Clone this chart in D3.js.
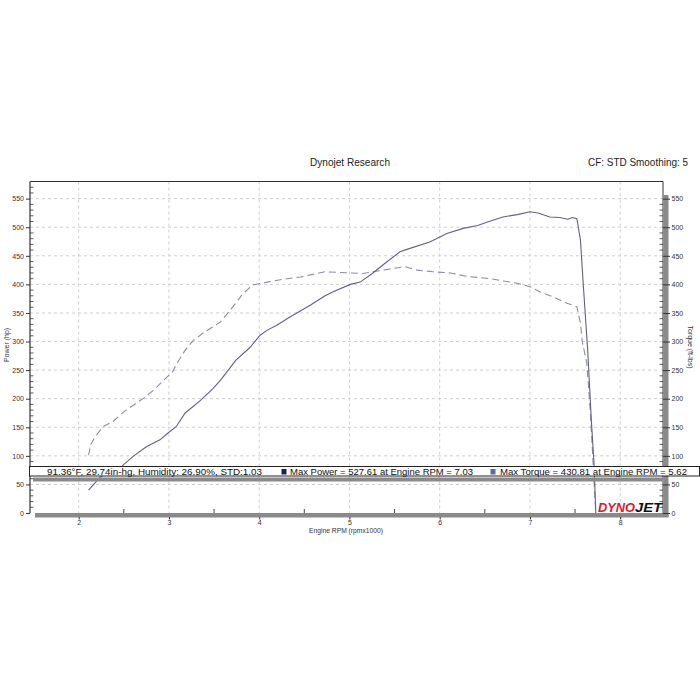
<!DOCTYPE html>
<html><head><meta charset="utf-8">
<script src="https://cdn.jsdelivr.net/npm/d3@7"></script>
<style>body{margin:0;background:#fff}svg{display:block}</style>
</head><body>
<script>
const powerRpm = [2.11,2.24,2.48,2.61,2.75,2.90,2.99,3.08,3.18,3.35,3.49,3.57,3.74,3.90,4.01,4.09,4.20,4.34,4.57,4.73,4.82,5.01,5.12,5.26,5.37,5.56,5.67,5.89,6.08,6.26,6.42,6.53,6.70,6.86,7.00,7.09,7.22,7.33,7.42,7.47,7.52,7.56,7.59,7.64,7.68,7.71,7.73];
const powerHp  = [40,63,82,100,116,128,140,151,175,197,218,232,267,290,311,320,329,343,364,380,387,400,404,420,434,457,463,474,489,498,503,509,518,522,527,525,518,517,514,517,515,477,402,285,163,87,0];
const torqueRpm = [2.11,2.13,2.18,2.27,2.38,2.50,2.61,2.72,2.83,2.94,3.04,3.09,3.18,3.27,3.38,3.57,3.71,3.82,3.93,4.09,4.27,4.46,4.64,4.73,5.01,5.15,5.26,5.49,5.62,5.75,5.93,6.12,6.30,6.56,6.70,6.86,7.00,7.11,7.26,7.41,7.52,7.56,7.58,7.63,7.67,7.70,7.72,7.73];
const torqueLbft = [101,119,133,151,160,177,189,201,215,232,247,262,285,302,315,334,361,384,399,404,409,413,419,422,420,419,422,428,430.8,425,422,420,414,410,406,402,396,387,378,367,361,332,300,262,175,87,28,0];
const xTicks = [2,3,4,5,6,7,8];
const yTicks = [0,50,100,150,200,250,300,350,400,450,500,550];
const title = "Dynojet Research";
const cfText = "CF: STD Smoothing: 5";
const weatherText = "91.36°F, 29.74in-hg, Humidity: 26.90%, STD:1.03";
const maxPowerText = "Max Power = 527.61 at Engine RPM = 7.03";
const maxTorqueText = "Max Torque = 430.81 at Engine RPM = 5.62";

const W = 700, H = 700;
const svg = d3.select("body").append("svg").attr("width", W).attr("height", H);
const L = 30, R = 663, T = 181.5, B = 513;
const x = d3.scaleLinear().domain([1.455, 8.48]).range([L - 0.5, R + 0.5]);
const y = d3.scaleLinear().domain([0, 580]).range([B, T]);
const font = "'Liberation Sans', Arial, sans-serif";

svg.append("text").attr("x", 350).attr("y", 166).attr("text-anchor", "middle")
  .attr("font-family", font).attr("font-size", 10.5).attr("fill", "#222")
  .attr("textLength", 80).attr("lengthAdjust", "spacingAndGlyphs").text(title);
svg.append("text").attr("x", 588).attr("y", 166)
  .attr("font-family", font).attr("font-size", 10.2).attr("fill", "#222")
  .attr("textLength", 100).attr("lengthAdjust", "spacingAndGlyphs").text(cfText);

// grid
const g = svg.append("g");
g.selectAll(".hg").data(yTicks.filter(d => d > 0)).join("line")
  .attr("x1", L).attr("x2", R).attr("y1", d => y(d)).attr("y2", d => y(d))
  .attr("stroke", "#cfcfcf").attr("stroke-width", 1).attr("stroke-dasharray", "3,3");
g.selectAll(".vg").data(xTicks).join("line")
  .attr("x1", d => x(d)).attr("x2", d => x(d)).attr("y1", T).attr("y2", B)
  .attr("stroke", "#cfcfcf").attr("stroke-width", 1).attr("stroke-dasharray", "3,3");

// frame
svg.append("line").attr("x1", L).attr("x2", R).attr("y1", T).attr("y2", T).attr("stroke", "#333").attr("stroke-width", 1.2);
svg.append("line").attr("x1", R).attr("x2", R).attr("y1", T).attr("y2", B + 3).attr("stroke", "#333").attr("stroke-width", 1);
svg.append("line").attr("x1", L).attr("x2", L).attr("y1", T).attr("y2", B).attr("stroke", "#333").attr("stroke-width", 1.2);
svg.append("rect").attr("x", R + 0.5).attr("y", 195).attr("width", 5).attr("height", B + 4 - 195).attr("fill", "#8a8a8a");
svg.append("rect").attr("x", 35).attr("y", B).attr("width", R + 5.5 - 35).attr("height", 4.5).attr("fill", "#8a8a8a");

const minorY = d3.range(0, 580, 10).filter(v => v % 50 !== 0);
svg.selectAll(".lmy").data(minorY).join("line")
  .attr("x1", L).attr("x2", L + 3.5).attr("y1", d => y(d)).attr("y2", d => y(d))
  .attr("stroke", "#333").attr("stroke-width", 0.8);
svg.selectAll(".rmy").data(minorY.filter(v => v > 0 && y(v) > 196)).join("line")
  .attr("x1", R - 3.5).attr("x2", R).attr("y1", d => y(d)).attr("y2", d => y(d))
  .attr("stroke", "#333").attr("stroke-width", 0.8);

const leftAxis = svg.append("g").attr("transform", `translate(${L},0)`)
  .call(d3.axisLeft(y).tickValues(yTicks).tickSize(4).tickPadding(2));
leftAxis.select(".domain").remove();
leftAxis.selectAll("line").attr("stroke", "#333");
leftAxis.selectAll("text").attr("font-family", font).attr("font-size", 7).attr("fill", "#333");

const rightAxis = svg.append("g").attr("transform", `translate(${R},0)`)
  .call(d3.axisRight(y).tickValues(yTicks).tickSize(7).tickPadding(1.5));
rightAxis.select(".domain").remove();
rightAxis.selectAll("line").attr("stroke", "#333");
rightAxis.selectAll("text").attr("font-family", font).attr("font-size", 7).attr("fill", "#333");

const bottomAxis = svg.append("g").attr("transform", `translate(0,${B + 4})`)
  .call(d3.axisBottom(x).tickValues(xTicks).tickSize(2.5).tickPadding(0.5).tickFormat(d3.format("d")));
bottomAxis.select(".domain").remove();
bottomAxis.selectAll("line").attr("stroke", "#333");
bottomAxis.selectAll("text").attr("font-family", font).attr("font-size", 7).attr("fill", "#333");
const halfTicks = [2.5,3.5,4.5,5.5,6.5,7.5];
svg.selectAll(".ht").data(halfTicks).join("line")
  .attr("x1", d => x(d)).attr("x2", d => x(d)).attr("y1", B - 4).attr("y2", B)
  .attr("stroke", "#333").attr("stroke-width", 0.9);

svg.append("text").attr("transform", "translate(9,345) rotate(-90)").attr("text-anchor", "middle")
  .attr("font-family", font).attr("font-size", 7).attr("fill", "#333").text("Power (hp)");
svg.append("text").attr("transform", "translate(688,347) rotate(90)").attr("text-anchor", "middle")
  .attr("font-family", font).attr("font-size", 7).attr("fill", "#333").text("Torque (ft-lbs)");
svg.append("text").attr("x", 346).attr("y", 533).attr("text-anchor", "middle")
  .attr("font-family", font).attr("font-size", 7).attr("fill", "#333")
  .attr("textLength", 74).attr("lengthAdjust", "spacingAndGlyphs").text("Engine RPM (rpmx1000)");

// curves
const lineL = d3.line().x(d => x(d[0])).y(d => y(d[1]));
const pData = powerRpm.map((r, i) => [r, powerHp[i]]);
const tData = torqueRpm.map((r, i) => [r, torqueLbft[i]]);
svg.append("path").datum(tData).attr("d", lineL).attr("fill", "none")
  .attr("stroke", "#8c8ca4").attr("stroke-width", 1.1).attr("stroke-dasharray", "7,4");
svg.append("path").datum(pData).attr("d", lineL).attr("fill", "none")
  .attr("stroke", "#616183").attr("stroke-width", 1.1);

// info box
svg.append("rect").attr("x", 33).attr("y", 477.5).attr("width", R - 33).attr("height", 4).attr("fill", "#8a8a8a");
svg.append("rect").attr("x", 29.5).attr("y", 466.5).attr("width", 670).attr("height", 9.5)
  .attr("fill", "#fff").attr("stroke", "#222").attr("stroke-width", 1);
const infoY = 474.5;
svg.append("text").attr("x", 47).attr("y", infoY).attr("font-family", font).attr("font-size", 9.5).attr("fill", "#111")
  .attr("textLength", 215).attr("lengthAdjust", "spacingAndGlyphs").text(weatherText);
svg.append("rect").attr("x", 281.5).attr("y", 469).attr("width", 5).attr("height", 5.5).attr("fill", "#1c1c64");
svg.append("text").attr("x", 290).attr("y", infoY).attr("font-family", font).attr("font-size", 9.5).attr("fill", "#111")
  .attr("textLength", 183).attr("lengthAdjust", "spacingAndGlyphs").text(maxPowerText);
svg.append("rect").attr("x", 490.5).attr("y", 469).attr("width", 5).attr("height", 5.5).attr("fill", "#6464a8");
svg.append("text").attr("x", 500).attr("y", infoY).attr("font-family", font).attr("font-size", 9.3).attr("fill", "#111")
  .attr("textLength", 187).attr("lengthAdjust", "spacingAndGlyphs").text(maxTorqueText);

// logo
svg.append("text").attr("x", 598).attr("y", 512).attr("font-family", font)
  .attr("font-size", 12.5).attr("font-weight", "bold").attr("font-style", "italic").attr("fill", "#e0182d")
  .attr("textLength", 37).attr("lengthAdjust", "spacingAndGlyphs").text("DYNO");
svg.append("text").attr("x", 635).attr("y", 512).attr("font-family", font)
  .attr("font-size", 12.5).attr("font-weight", "bold").attr("font-style", "italic").attr("fill", "#111")
  .attr("textLength", 27).attr("lengthAdjust", "spacingAndGlyphs").text("JET");
</script>
</body></html>
